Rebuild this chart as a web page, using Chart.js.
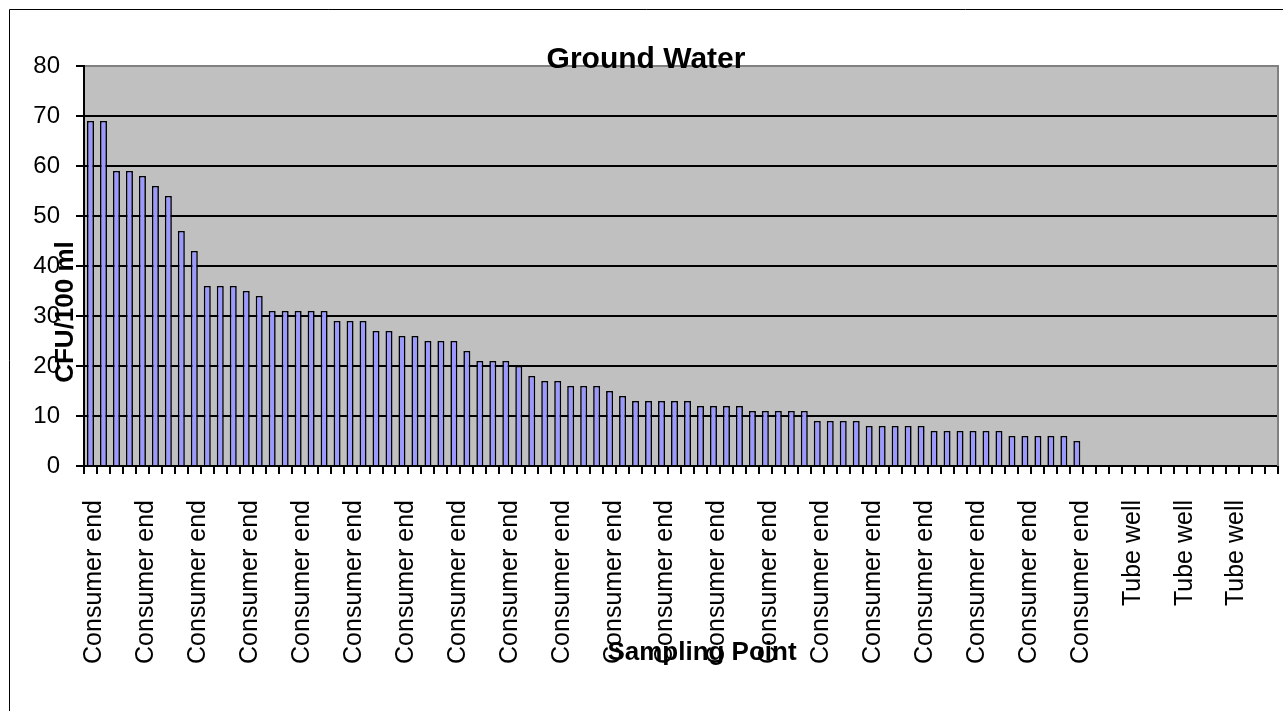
<!DOCTYPE html>
<html>
<head>
<meta charset="utf-8">
<title>Ground Water</title>
<script src="https://cdn.jsdelivr.net/npm/chart.js@4/dist/chart.umd.min.js"></script>
<style>
  html, body { margin: 0; padding: 0; background: #ffffff; }
  canvas { display: block; }
</style>
</head>
<body>
<canvas id="chart" width="1283" height="711"></canvas>
<script>
// CFU per 100 ml at each sampling point, sorted high to low
const consumerEndCfu = [
  69, 69, 59, 59, 58, 56, 54, 47, 43, 36,
  36, 36, 35, 34, 31, 31, 31, 31, 31, 29,
  29, 29, 27, 27, 26, 26, 25, 25, 25, 23,
  21, 21, 21, 20, 18, 17, 17, 16, 16, 16,
  15, 14, 13, 13, 13, 13, 13, 12, 12, 12,
  12, 11, 11, 11, 11, 11, 9, 9, 9, 9,
  8, 8, 8, 8, 8, 7, 7, 7, 7, 7,
  7, 6, 6, 6, 6, 6, 5
];
const tubeWellCfu = [0, 0, 0, 0, 0, 0, 0, 0, 0, 0, 0, 0, 0, 0, 0];

const categories = [
  ...consumerEndCfu.map(() => 'Consumer end'),
  ...tubeWellCfu.map(() => 'Tube well')
];
const cfuValues = [...consumerEndCfu, ...tubeWellCfu];

const yTickValues = [0, 10, 20, 30, 40, 50, 60, 70, 80];
const labelEvery = 4;

const chartTitle = 'Ground Water';
const yAxisTitle = 'CFU/100 ml';
const xAxisTitle = 'Sampling Point';

const FONT = '"Liberation Sans", Arial, Helvetica, sans-serif';

// Frame, grey plot background, plot border and the three titles
const decorations = {
  id: 'decorations',
  beforeDraw(chart) {
    const { ctx, chartArea: a } = chart;
    ctx.save();
    ctx.fillStyle = '#ffffff';
    ctx.fillRect(0, 0, chart.width, chart.height);
    ctx.strokeStyle = '#000000';
    ctx.lineWidth = 1;
    ctx.beginPath();
    ctx.moveTo(9.5, chart.height + 2);
    ctx.lineTo(9.5, 9.5);
    ctx.lineTo(chart.width + 2, 9.5);
    ctx.stroke();
    ctx.fillStyle = '#c0c0c0';
    ctx.fillRect(a.left, a.top, a.right - a.left, a.bottom - a.top);
    ctx.restore();
  },
  afterDraw(chart) {
    const { ctx, chartArea: a } = chart;
    ctx.save();
    ctx.strokeStyle = '#808080';
    ctx.lineWidth = 2;
    ctx.beginPath();
    ctx.moveTo(a.right, a.top - 1);
    ctx.lineTo(a.right, a.bottom);
    ctx.stroke();

    ctx.fillStyle = '#000000';
    ctx.textAlign = 'center';
    ctx.textBaseline = 'alphabetic';
    ctx.font = 'bold 30px ' + FONT;
    ctx.fillText(chartTitle, 646, 68);

    ctx.font = 'bold 26px ' + FONT;
    ctx.fillText(xAxisTitle, 702, 660);

    ctx.translate(73, 312);
    ctx.rotate(-Math.PI / 2);
    ctx.fillText(yAxisTitle, 0, 0);
    ctx.restore();
  }
};

new Chart(document.getElementById('chart'), {
  type: 'bar',
  data: {
    labels: categories,
    datasets: [{
      label: yAxisTitle,
      data: cfuValues,
      backgroundColor: '#9999ff',
      borderColor: '#000000',
      borderWidth: 1.6,
      barPercentage: 0.54,
      categoryPercentage: 1.0
    }]
  },
  options: {
    responsive: false,
    animation: false,
    devicePixelRatio: 1,
    layout: { padding: { top: 66, right: 5, left: 0, bottom: 0 } },
    plugins: {
      legend: { display: false },
      title: { display: false },
      tooltip: { enabled: false }
    },
    scales: {
      x: {
        type: 'category',
        offset: true,
        border: { display: true, color: '#000000', width: 2 },
        grid: {
          display: true,
          offset: true,
          drawOnChartArea: false,
          drawTicks: true,
          tickLength: 8,
          color: '#000000',
          lineWidth: 2
        },
        ticks: {
          autoSkip: false,
          minRotation: 90,
          maxRotation: 90,
          padding: 26,
          labelOffset: 4,
          color: '#000000',
          font: { family: FONT, size: 25 },
          callback(value, index) {
            return index % labelEvery === 0 ? this.getLabelForValue(value) : '';
          }
        },
        afterFit(scale) {
          scale.height = 711 - 466;
          scale.paddingLeft = 0;
          scale.paddingRight = 0;
        }
      },
      y: {
        min: yTickValues[0],
        max: yTickValues[yTickValues.length - 1],
        border: { display: true, color: '#000000', width: 2 },
        grid: {
          display: true,
          drawTicks: true,
          tickLength: 8,
          lineWidth: 2,
          color: (c) => (c.tick && c.tick.value === yTickValues[yTickValues.length - 1]) ? '#808080' : '#000000',
          tickColor: '#000000'
        },
        ticks: {
          stepSize: 10,
          padding: 16,
          color: '#000000',
          font: { family: FONT, size: 24 }
        },
        afterBuildTicks(scale) {
          scale.ticks = yTickValues.map(v => ({ value: v }));
        },
        afterFit(scale) {
          scale.width = 84;
          scale.paddingTop = 0;
          scale.paddingBottom = 0;
        }
      }
    }
  },
  plugins: [decorations]
});
</script>
</body>
</html>
